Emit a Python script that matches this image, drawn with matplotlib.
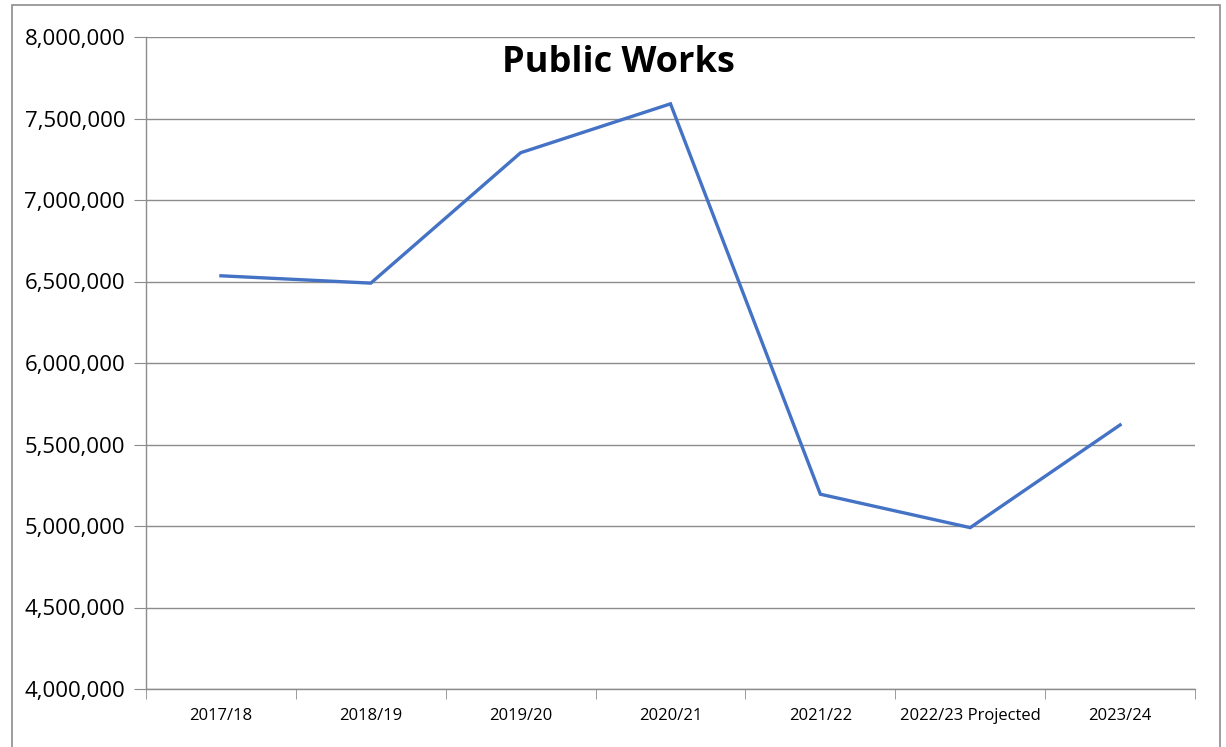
import matplotlib
matplotlib.use("Agg")
import matplotlib.pyplot as plt
from matplotlib.patches import Rectangle
from matplotlib.ticker import FuncFormatter, FixedLocator

years = ['2017/18', '2018/19', '2019/20', '2020/21', '2021/22',
         '2022/23 Projected', '2023/24']
spending = [6535000, 6490000, 7290000, 7590000, 5195000, 4990000, 5620000]

plt.rcParams['font.family'] = ['Open Sans', 'DejaVu Sans']

W, H = 1226, 747
fig = plt.figure(figsize=(W / 100, H / 100), dpi=100)
ax = fig.add_axes([146 / W, 1 - 689 / H, (1195 - 146) / W, (689 - 37) / H])

x = list(range(len(years)))
ax.plot(x, spending, color='#4472C4', linewidth=2.4, solid_joinstyle='miter')

ax.set_xlim(-0.5, len(years) - 0.5)
ax.set_ylim(4000000, 8000000)
ax.set_yticks(range(4000000, 8000001, 500000))
ax.yaxis.set_major_formatter(FuncFormatter(lambda v, p: f'{int(v):,}'))
ax.grid(axis='y', color='#8c8c8c', linewidth=1)
ax.set_axisbelow(True)

ax.set_xticks(x)
ax.set_xticklabels(years, fontsize=12)
ax.xaxis.set_minor_locator(FixedLocator([i - 0.5 for i in range(len(years) + 1)]))
ax.tick_params(axis='x', which='major', length=0, pad=14)
ax.tick_params(axis='x', which='minor', length=7, color='#8c8c8c', direction='out')
ax.tick_params(axis='y', length=9, color='#8c8c8c', labelsize=16, pad=6)

for s in ['top', 'right']:
    ax.spines[s].set_visible(False)
for s in ['left', 'bottom']:
    ax.spines[s].set_color('#8c8c8c')
    ax.spines[s].set_linewidth(1)

ax.text(0.45, 0.96, 'Public Works', transform=ax.transAxes, ha='center', va='center',
        fontsize=26, fontweight='bold', color='black')

# outer chart border (bottom edge lies outside the image)
fig.patches.append(Rectangle((12 / W, -0.05), (1220 - 12) / W, 1.05 - 5 / H,
                             transform=fig.transFigure, fill=False,
                             edgecolor='#8c8c8c', linewidth=1.2, clip_on=False))

fig.savefig('out.png', dpi=100)
